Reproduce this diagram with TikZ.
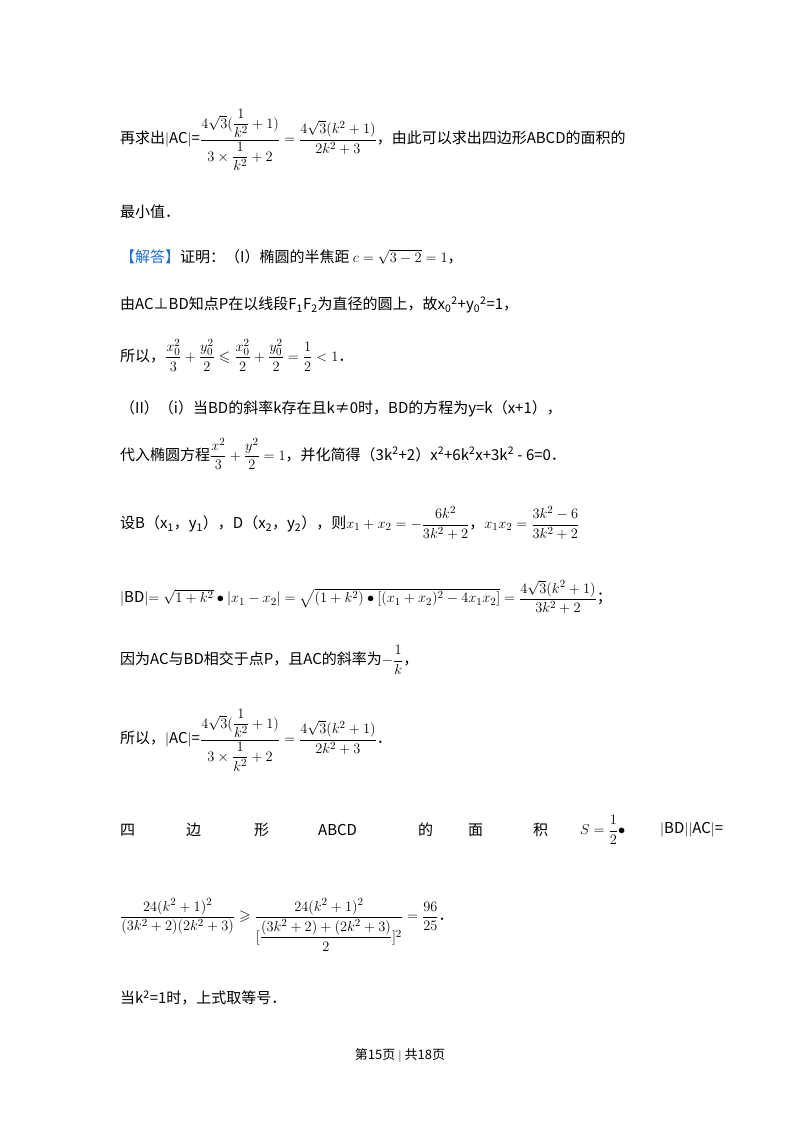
\documentclass[tikz,border=0pt]{standalone}
\usepackage{fontspec}
\setmainfont{Noto Sans CJK SC}
\usepackage{amsmath,amssymb}
\begin{document}
\begin{tikzpicture}[x=1pt,y=-1pt,
  line/.style={anchor=west,inner sep=0pt,font=\fontsize{15}{18}\selectfont}]
\useasboundingbox (0,0) rectangle (800,1132);
\node[line] (l1) at (120,140) {再求出$|$AC$|$=$\dfrac{4\sqrt3(\dfrac{1}{k^2}+1)}{3\times\dfrac{1}{k^2}+2}=\dfrac{4\sqrt3(k^2+1)}{2k^2+3}$，由此可以求出四边形ABCD的面积的};
\node[line] (l2) at (120,212) {最小值．};
\node[line] (l3) at (120,257) {\textcolor[RGB]{30,110,220}{【解答】}证明：（I）椭圆的半焦距 $c=\sqrt{3-2}=1$，};
\node[line] (l4) at (120,305) {由AC⊥BD知点P在以线段F\textsubscript{1}F\textsubscript{2}为直径的圆上，故x\textsubscript{0}\textsuperscript{2}+y\textsubscript{0}\textsuperscript{2}=1，};
\node[line] (l5) at (120,355) {所以，$\dfrac{x_0^2}{3}+\dfrac{y_0^2}{2}\leqslant\dfrac{x_0^2}{2}+\dfrac{y_0^2}{2}=\dfrac12<1$．};
\node[line] (l6) at (120,409) {（II）（i）当BD的斜率k存在且k≠0时，BD的方程为y=k（x+1），};
\node[line] (l7) at (120,454) {代入椭圆方程$\dfrac{x^2}{3}+\dfrac{y^2}{2}=1$，并化简得（3k\textsuperscript{2}+2）x\textsuperscript{2}+6k\textsuperscript{2}x+3k\textsuperscript{2} - 6=0．};
\node[line] (l8) at (120,523) {设B（x\textsubscript{1}，y\textsubscript{1}），D（x\textsubscript{2}，y\textsubscript{2}），则$x_1+x_2=-\dfrac{6k^2}{3k^2+2}$，$x_1x_2=\dfrac{3k^2-6}{3k^2+2}$};
\node[line] (l9) at (120,597) {$|$BD$|$$=\sqrt{1+k^2}\bullet|x_1-x_2|=\sqrt{(1+k^2)\bullet[(x_1+x_2)^2-4x_1x_2]}=\dfrac{4\sqrt3(k^2+1)}{3k^2+2}$；};
\node[line] (l10) at (120,660) {因为AC与BD相交于点P，且AC的斜率为$-\dfrac1k$，};
\node[line] (l11) at (120,740) {所以，$|$AC$|$=$\dfrac{4\sqrt3(\dfrac{1}{k^2}+1)}{3\times\dfrac{1}{k^2}+2}=\dfrac{4\sqrt3(k^2+1)}{2k^2+3}$．};
\node[line] (l12a) at (120,830) {四};
\node[line] (l12b) at (186,830) {边};
\node[line] (l12c) at (254,830) {形};
\node[line] (l12d) at (318,830) {ABCD};
\node[line] (l12e) at (418,830) {的};
\node[line] (l12f) at (468,830) {面};
\node[line] (l12g) at (533,830) {积};
\node[line] (l12h) at (580,830) {$S=\dfrac12\bullet$};
\node[line] (l12i) at (660,830) {$|$BD$|$$|$AC$|$=};
\node[line] (l13) at (120,925) {$\dfrac{24(k^2+1)^2}{(3k^2+2)(2k^2+3)}\geqslant\dfrac{24(k^2+1)^2}{[\dfrac{(3k^2+2)+(2k^2+3)}{2}]^2}=\dfrac{96}{25}$．};
\node[line] (l14) at (120,998) {当k\textsuperscript{2}=1时，上式取等号．};
\node[inner sep=0pt,font=\fontsize{13}{16}\selectfont] (ft) at (400,1055) {第15页 $|$ 共18页};
\end{tikzpicture}
\end{document}
